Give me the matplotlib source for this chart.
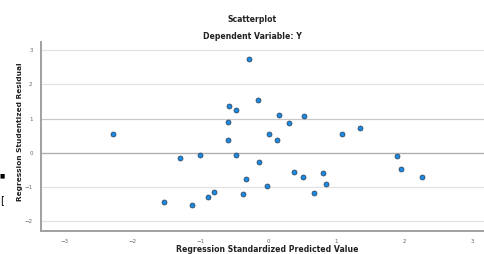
import matplotlib

matplotlib.use("Agg")
import matplotlib.pyplot as plt  # noqa: E402

# standardized predicted value vs studentized residual
pred = [-0.28, -0.15, -0.58, -0.47, 0.16, -0.59, -2.28, 0.01, 0.13, -0.59,
        -1.30, -1.00, -0.47, -0.14, -0.32, -0.02, -0.37, -0.80, -0.89, -1.53,
        -1.12, 0.53, 0.31, 1.35, 1.09, 1.89, 1.96, 0.38, 0.81, 0.51,
        2.27, 0.85, 0.67]
resid = [2.75, 1.55, 1.36, 1.24, 1.11, 0.90, 0.56, 0.54, 0.37, 0.38,
         -0.15, -0.08, -0.06, -0.27, -0.78, -0.96, -1.21, -1.14, -1.30, -1.45,
         -1.52, 1.07, 0.87, 0.71, 0.55, -0.11, -0.49, -0.56, -0.60, -0.70,
         -0.70, -0.91, -1.17]
xticks = [-3, -2, -1, 0, 1, 2, 3]
yticks = [-2, -1, 0, 1, 2, 3]

fig = plt.figure(figsize=(4.85, 2.54), dpi=100)
ax = fig.add_axes([0.0845, 0.0906, 0.9155, 0.744])

for y in yticks:
    if y == 0:
        col, lw = "#b0b0b0", 1.0
    elif y == 1:
        col, lw = "#c8c8c8", 0.9
    else:
        col, lw = "#e2e2e2", 0.9
    ax.axhline(y, color=col, lw=lw, zorder=1)

ax.scatter(pred, resid, s=13, color="#1b8ae0", edgecolor="#2c3e50",
           linewidth=0.5, zorder=3)

ax.set_xlim(-3.34, 3.19)
ax.set_ylim(-2.29, 3.24)
ax.set_xticks(xticks)
ax.set_yticks(yticks)
ax.tick_params(labelsize=4, colors="#666666", length=0, pad=6)
for s in ["top", "right"]:
    ax.spines[s].set_visible(False)
for s in ["left", "bottom"]:
    ax.spines[s].set_color("#a0a0a0")
    ax.spines[s].set_linewidth(1.4)

fig.text(0.52, 0.925, "Scatterplot", ha="center", va="center",
         fontsize=5.6, fontweight="bold", color="#222222")
fig.text(0.52, 0.855, "Dependent Variable: Y", ha="center", va="center",
         fontsize=5.6, fontweight="bold", color="#222222")
fig.text(0.041, 0.482, "Regression Studentized Residual", rotation=90,
         ha="center", va="center", fontsize=5.3, fontweight="bold",
         color="#222222")
fig.text(0.551, 0.018, "Regression Standardized Predicted Value",
         ha="center", va="center", fontsize=5.6, fontweight="bold",
         color="#222222")

# stray marks at the left edge of the original screenshot
fig.text(0.0, 0.307, "\u25a0", ha="left", va="center", fontsize=4)
fig.text(0.0, 0.212, "[", ha="left", va="center", fontsize=7)

fig.savefig("out.png", dpi=100)
